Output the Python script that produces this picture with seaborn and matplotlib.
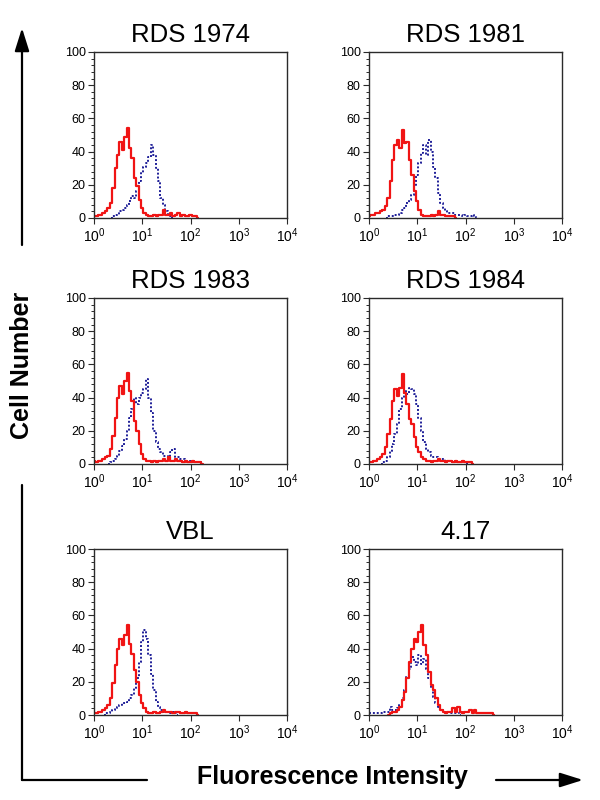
import numpy as np
import pandas as pd
import matplotlib
matplotlib.use("Agg")
import matplotlib.pyplot as plt
import seaborn as sns
from matplotlib.ticker import LogLocator, MultipleLocator, NullFormatter

sns.set_theme(style="ticks")
plt.rcParams["font.family"] = ["Liberation Sans", "DejaVu Sans"]
plt.rcParams["mathtext.default"] = "regular"
plt.rcParams["text.color"] = "black"
plt.rcParams["xtick.labelcolor"] = "black"
plt.rcParams["ytick.labelcolor"] = "black"

na = np.nan

# ---------------------------------------------
# DATA (log10 of fluorescence channel, cell counts)
# ---------------------------------------------

log_intensity = [
    0.00, 0.05, 0.10, 0.15, 0.20, 0.25, 0.30, 0.35, 0.40, 0.45,
    0.50, 0.55, 0.60, 0.65, 0.70, 0.75, 0.80, 0.85, 0.90, 0.95,
    1.00, 1.05, 1.10, 1.15, 1.20, 1.25, 1.30, 1.35, 1.40, 1.45,
    1.50, 1.55, 1.60, 1.65, 1.70, 1.75, 1.80, 1.85, 1.90, 1.95,
    2.00, 2.05, 2.10, 2.15, 2.20, 2.25, 2.30, 2.35, 2.40, 2.45,
    2.50, 2.55, 2.60,
]

panel_titles = ["RDS 1974", "RDS 1981", "RDS 1983", "RDS 1984", "VBL", "4.17"]

control_1974 = [
    1, 1, 2, 2, 3, 4, 6, 9, 18, 30,
    38, 46, 41, 49, 54, 42, 36, 24, 19, 11,
    6, 3, 2, 1, 1, 2, 1, 2, 2, 5,
    2, 2, 3, 1, 2, 3, 1, 2, 1, 1,
    2, 1, 1, 0, na, na, na, na, na, na,
    na, na, na,
]
test_1974 = [
    na, na, na, na, na, na, na, 0, 1, 2,
    2, 4, 5, 6, 8, 10, 13, 12, 16, 22,
    27, 31, 33, 37, 44, 38, 30, 22, 12, 8,
    4, 2, 1, 0, na, na, na, na, na, na,
    na, na, na, na, na, na, na, na, na, na,
    na, na, na,
]

control_1981 = [
    1, 2, 2, 3, 3, 4, 5, 7, 12, 22,
    35, 44, 47, 42, 53, 45, 46, 35, 26, 16,
    10, 5, 2, 1, 1, 1, 2, 1, 2, 4,
    2, 2, 1, 1, 1, 1, 0, na, na, na,
    na, na, na, na, na, na, na, na, na, na,
    na, na, na,
]
test_1981 = [
    na, na, na, na, na, na, na, 0, 1, 1,
    1, 2, 2, 3, 5, 6, 9, 11, 14, 20,
    26, 33, 39, 44, 38, 47, 40, 31, 24, 15,
    9, 6, 4, 3, 3, 3, 2, 2, 2, 1,
    2, 1, 1, 2, 1, 0, na, na, na, na,
    na, na, na,
]

control_1983 = [
    2, 1, 2, 2, 3, 4, 5, 9, 17, 28,
    40, 47, 42, 50, 55, 44, 38, 26, 20, 12,
    6, 3, 2, 2, 1, 2, 1, 2, 2, 3,
    2, 4, 2, 2, 3, 2, 2, 1, 2, 1,
    1, 2, 1, 1, 1, 0, na, na, na, na,
    na, na, na,
]
test_1983 = [
    na, na, na, na, na, na, 0, 1, 2, 3,
    5, 8, 11, 15, 20, 28, 33, 40, 36, 40,
    43, 45, 51, 40, 31, 20, 13, 9, 7, 5,
    5, 4, 7, 9, 4, 4, 3, 3, 2, 2,
    2, 1, 1, 1, 1, 0, na, na, na, na,
    na, na, na,
]

control_1984 = [
    1, 1, 2, 2, 3, 4, 6, 10, 18, 27,
    38, 45, 41, 46, 54, 43, 36, 27, 24, 16,
    10, 7, 4, 3, 2, 2, 1, 2, 2, 3,
    2, 2, 1, 2, 2, 1, 2, 1, 1, 2,
    1, 1, 1, 0, na, na, na, na, na, na,
    na, na, na,
]
test_1984 = [
    na, na, na, na, na, 0, 1, 2, 4, 8,
    12, 18, 24, 33, 40, 44, 42, 46, 45, 42,
    36, 28, 20, 13, 9, 7, 5, 4, 4, 3,
    3, 3, 2, 2, 2, 1, 2, 1, 1, 1,
    1, 0, na, na, na, na, na, na, na, na,
    na, na, na,
]

control_vbl = [
    1, 1, 2, 2, 3, 4, 6, 10, 19, 30,
    40, 46, 42, 48, 54, 43, 37, 27, 20, 12,
    7, 4, 2, 1, 1, 2, 1, 1, 2, 3,
    2, 2, 2, 1, 2, 2, 1, 1, 2, 1,
    1, 1, 1, 0, na, na, na, na, na, na,
    na, na, na,
]
test_vbl = [
    na, na, na, na, 0, 1, 1, 2, 3, 4,
    5, 6, 7, 7, 8, 10, 12, 16, 22, 32,
    44, 51, 46, 36, 25, 15, 8, 5, 3, 2,
    2, 2, 1, 2, 1, 0, na, na, na, na,
    na, na, na, na, na, na, na, na, na, na,
    na, na, na,
]

control_417 = [
    na, na, na, na, na, na, na, na, 0, 1,
    2, 2, 3, 5, 9, 14, 22, 32, 40, 46,
    44, 50, 54, 42, 36, 26, 18, 15, 10, 6,
    3, 2, 1, 2, 2, 4, 2, 5, 2, 1,
    2, 2, 3, 1, 3, 1, 1, 1, 1, 1,
    1, 1, 0,
]
test_417 = [
    1, 1, 1, 1, 1, 1, 2, 2, 2, 5,
    3, 3, 4, 6, 10, 15, 23, 28, 35, 32,
    30, 36, 31, 34, 28, 22, 16, 11, 7, 5,
    3, 2, 2, 2, 1, 1, 1, 1, 0, na,
    na, na, na, na, na, na, na, na, na, na,
    na, na, na,
]

control_curves = [control_1974, control_1981, control_1983,
                  control_1984, control_vbl, control_417]
test_curves = [test_1974, test_1981, test_1983,
               test_1984, test_vbl, test_417]

rows = []
for title, ctrl, test in zip(panel_titles, control_curves, test_curves):
    for lg, c, t in zip(log_intensity, ctrl, test):
        rows.append({"panel": title, "intensity": 10 ** lg,
                     "sample": "control", "count": c})
        rows.append({"panel": title, "intensity": 10 ** lg,
                     "sample": "test", "count": t})
df = pd.DataFrame(rows).dropna()

# ---------------------------------------------
# FIGURE
# ---------------------------------------------

red = "#f01414"
blue = "#1f1f98"

fig = plt.figure(figsize=(6, 8), dpi=100)

col_x = [94 / 600, 369 / 600]
row_y = [1 - 218 / 800, 1 - 464 / 800, 1 - 715 / 800]
ax_w = 193 / 600
ax_h = 166 / 800

for i, title in enumerate(panel_titles):
    ax = fig.add_axes([col_x[i % 2], row_y[i // 2], ax_w, ax_h])
    sub = df[df["panel"] == title]

    sns.lineplot(data=sub[sub["sample"] == "test"], x="intensity", y="count",
                 color=blue, linewidth=1.4, linestyle=(0, (1, 1)),
                 drawstyle="steps-mid", estimator=None, ax=ax)
    sns.lineplot(data=sub[sub["sample"] == "control"], x="intensity", y="count",
                 color=red, linewidth=1.6,
                 drawstyle="steps-mid", estimator=None, ax=ax)

    ax.set_xscale("log")
    ax.set_xlim(1, 1e4)
    ax.set_ylim(0, 100)
    ax.set_xticks([1, 10, 100, 1000, 10000])
    ax.set_xticklabels([r"$10^{0}$", r"$10^{1}$", r"$10^{2}$",
                        r"$10^{3}$", r"$10^{4}$"])
    ax.xaxis.set_minor_locator(LogLocator(base=10, subs=range(2, 10)))
    ax.xaxis.set_minor_formatter(NullFormatter())
    ax.set_yticks([0, 20, 40, 60, 80, 100])
    ax.yaxis.set_minor_locator(MultipleLocator(4))

    ax.set_xlabel("")
    ax.set_ylabel("")
    ax.set_title(title, fontsize=18.5, pad=7, color="black")

    for side in ["left", "right", "top", "bottom"]:
        ax.spines[side].set_color("#2a2a2a")
        ax.spines[side].set_linewidth(1.0)
    ax.tick_params(which="major", direction="out", length=4, width=0.8,
                   pad=2, color="#2a2a2a", labelcolor="black")
    ax.tick_params(axis="y", which="major", labelsize=9)
    ax.tick_params(axis="x", which="major", labelsize=10)
    ax.tick_params(which="minor", direction="out", length=2.5, width=0.7,
                   color="#2a2a2a")

# ---------------------------------------------
# AXIS ARROWS AND LABELS
# ---------------------------------------------

ov = fig.add_axes([0, 0, 1, 1], zorder=-1)
ov.set_xlim(0, 600)
ov.set_ylim(800, 0)
ov.axis("off")

arrow = dict(arrowstyle="-|>,head_length=0.7,head_width=0.22",
             lw=1.6, color="black", mutation_scale=20,
             shrinkA=0, shrinkB=0)

ov.annotate("", xy=(22, 28), xytext=(22, 245), arrowprops=arrow)
ov.plot([22, 22], [485, 780], color="black", lw=1.6)
ov.plot([22, 147], [780, 780], color="black", lw=1.6)
ov.annotate("", xy=(583, 780), xytext=(496, 780), arrowprops=arrow)

ov.text(22, 365, "Cell Number", rotation=90, ha="center", va="center",
        fontsize=18, fontweight="bold", color="black")
ov.text(332, 777, "Fluorescence Intensity", ha="center", va="center",
        fontsize=18, fontweight="bold", color="black")

fig.savefig("out.png", dpi=100)
